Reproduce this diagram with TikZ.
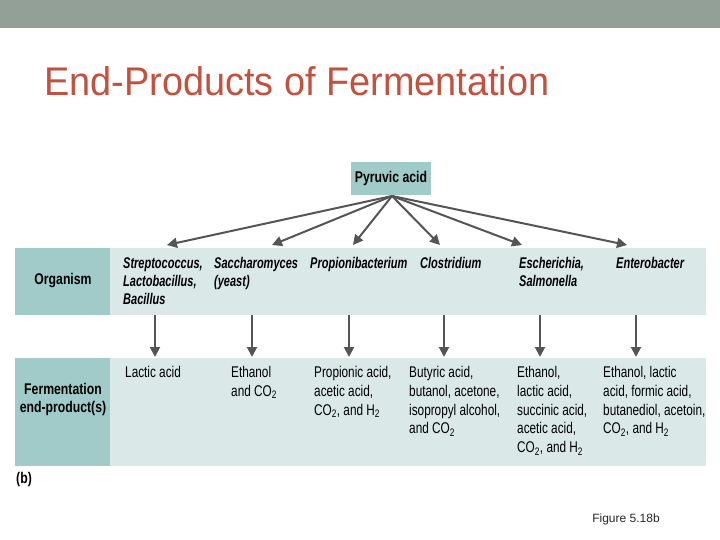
\documentclass[tikz,border=0pt]{standalone}
\usepackage{fontspec}
\setmainfont{Liberation Sans}
\newfontfamily\regnarrow[FakeStretch=0.76]{Liberation Sans}
\newfontfamily\bnarrow[FakeStretch=0.79]{Liberation Sans}
\newfontfamily\binarrow[FakeStretch=0.71]{Liberation Sans}
\newfontfamily\titlefont[FakeStretch=0.947]{Liberation Sans}
\usetikzlibrary{arrows.meta}
\definecolor{barc}{RGB}{147,160,152}
\definecolor{titlec}{RGB}{194,82,64}
\definecolor{tealdark}{RGB}{160,203,200}
\definecolor{teallight}{RGB}{218,232,232}
\definecolor{arrc}{RGB}{85,85,85}
\definecolor{figc}{RGB}{40,40,40}
\tikzset{
  rowbox/.style={inner sep=0pt, anchor=north west},
  orgtext/.style={anchor=north west, inner sep=0pt, align=left,
    font=\binarrow\fontsize{15.5}{18}\selectfont\bfseries\itshape},
  prodtext/.style={anchor=north west, inner sep=0pt, align=left,
    font=\regnarrow\fontsize{15.5}{18.8}\selectfont},
  headtext/.style={inner sep=0pt, align=center,
    font=\bnarrow\fontsize{15.5}{18.8}\selectfont\bfseries},
  arr/.style={draw=arrc, line width=2pt, -{Triangle[length=10pt,width=10pt]}}
}
\begin{document}
\begin{tikzpicture}[x=1pt,y=-1pt]
\useasboundingbox (0,0) rectangle (720,540);
\fill[white] (0,0) rectangle (720,540);
% top bar
\node[rowbox, fill=barc, minimum width=720pt, minimum height=28pt] (bar) at (0,0) {};
% title
\node[anchor=base west, inner sep=0pt, text=titlec, font=\titlefont\fontsize{40}{44}\selectfont] (title) at (44,96) {End-Products of Fermentation};
% pyruvic acid
\node[fill=tealdark, minimum width=80pt, minimum height=33pt, inner sep=0pt, font=\bnarrow\fontsize{15.5}{18}\selectfont\bfseries] (pyr) at (391,178.5) {Pyruvic acid};
% rows
\node[rowbox, fill=tealdark, minimum width=95pt, minimum height=67pt] (orghead) at (15,248) {};
\node[rowbox, fill=teallight, minimum width=596pt, minimum height=67pt] (orgrow) at (110,248) {};
\node[rowbox, fill=tealdark, minimum width=95pt, minimum height=108pt] (prodhead) at (15,358) {};
\node[rowbox, fill=teallight, minimum width=596pt, minimum height=108pt] (prodrow) at (110,358) {};
\node[headtext] (orglabel) at (63,281) {Organism};
\node[headtext] (prodlabel) at (63,399.5) {Fermentation\\end-product(s)};
% organisms
\node[orgtext] (o1) at (123,257.5) {Streptococcus,\\Lactobacillus,\\Bacillus};
\node[orgtext] (o2) at (214,257.5) {Saccharomyces\\(yeast)};
\node[orgtext] (o3) at (310,257.5) {Propionibacterium};
\node[orgtext] (o4) at (420,257.5) {Clostridium};
\node[orgtext] (o5) at (519,257.5) {Escherichia,\\Salmonella};
\node[orgtext] (o6) at (616,257.5) {Enterobacter};
% products
\node[prodtext] (p1) at (125,366) {Lactic acid};
\node[prodtext] (p2) at (231,366) {Ethanol\\and CO\textsubscript{2}};
\node[prodtext] (p3) at (314,366) {Propionic acid,\\acetic acid,\\CO\textsubscript{2}, and H\textsubscript{2}};
\node[prodtext] (p4) at (409,366) {Butyric acid,\\butanol, acetone,\\isopropyl alcohol,\\and CO\textsubscript{2}};
\node[prodtext] (p5) at (517,366) {Ethanol,\\lactic acid,\\succinic acid,\\acetic acid,\\CO\textsubscript{2}, and H\textsubscript{2}};
\node[prodtext] (p6) at (603,366) {Ethanol, lactic\\acid, formic acid,\\butanediol, acetoin,\\CO\textsubscript{2}, and H\textsubscript{2}};
% (b)
\node[anchor=west, inner sep=0pt, font=\bnarrow\fontsize{15.5}{18}\selectfont\bfseries] (blabel) at (16,479) {(b)};
% figure caption
\node[inner sep=0pt, text=figc, font=\fontsize{12}{14}\selectfont] (fig) at (626,519) {Figure 5.18b};
% arrows from pyruvic acid
\coordinate (src) at (392,196);
\coordinate (t1) at (167,245);
\coordinate (t2) at (272,245);
\coordinate (t3) at (353,245);
\coordinate (t4) at (440,245);
\coordinate (t5) at (522,245);
\coordinate (t6) at (627,245);
\foreach \t in {t1,t2,t3,t4,t5,t6} \draw[arr] (src) -- (\t);
% down arrows
\foreach \i/\x in {1/155,2/252,3/349,4/444,5/540,6/636}{
  \coordinate (ds\i) at (\x,315);
  \coordinate (de\i) at (\x,357);
  \draw[arr] (ds\i) -- (de\i);
}
\end{tikzpicture}
\end{document}
